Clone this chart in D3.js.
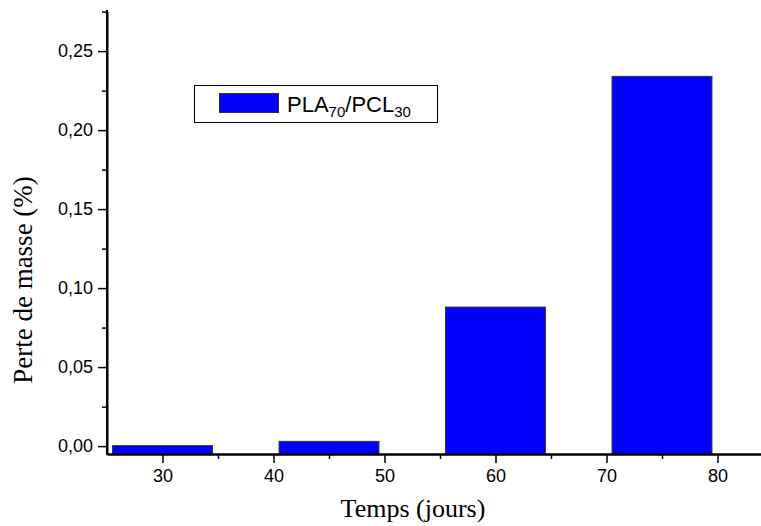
<!DOCTYPE html>
<html>
<head>
<meta charset="utf-8">
<script src="https://cdn.jsdelivr.net/npm/d3@7"></script>
<style>
  html, body { margin: 0; padding: 0; background: #fff; }
  svg { display: block; }
  .tick text { font-family: Arial, "Liberation Sans", sans-serif; }
</style>
</head>
<body>
<svg id="chart" width="761" height="526"></svg>
<script>
// Mass loss of the PLA70/PCL30 blend over time
const days = [30, 45, 60, 75];
const massLoss = [0.0003, 0.003, 0.088, 0.234];
const xTickValues = [30, 40, 50, 60, 70, 80];
const xMinorTicks = [35, 45, 55, 65, 75, 85];
const yTickValues = [0, 0.05, 0.10, 0.15, 0.20, 0.25];
const yMinorTicks = [0.025, 0.075, 0.125, 0.175, 0.225, 0.275];
const seriesName = ["PLA", "70", "/PCL", "30"];
const xTitle = "Temps (jours)";
const yTitle = "Perte de masse (%)";
const barWidthDays = 9;

const svg = d3.select("#chart");
const plotLeft = 107, plotBottom = 454, plotTop = 11.6;

const x = d3.scaleLinear().domain([25, 85]).range([plotLeft, plotLeft + 60 * 11.1]);
const y = d3.scaleLinear().domain([-0.005, 0.275]).range([plotBottom, plotTop]);

const commaFmt = d => d3.format(".2f")(d).replace(".", ",");

// Bars, rising from the bottom of the plot
svg.append("g").selectAll("rect")
  .data(days.map((d, i) => ({ day: d, v: massLoss[i] })))
  .join("rect")
  .attr("x", d => x(d.day - barWidthDays / 2))
  .attr("width", d => x(d.day + barWidthDays / 2) - x(d.day - barWidthDays / 2))
  .attr("y", d => y(d.v))
  .attr("height", d => y(-0.005) - y(d.v))
  .attr("fill", "#0000ff")
  .attr("stroke", "#333")
  .attr("stroke-width", 1);

// Y axis
const yAxis = svg.append("g").attr("transform", `translate(${plotLeft},0)`)
  .call(d3.axisLeft(y).tickValues(yTickValues).tickSize(9).tickSizeOuter(0).tickPadding(5).tickFormat(commaFmt));
yAxis.append("g").call(d3.axisLeft(y).tickValues(yMinorTicks).tickSize(5).tickSizeOuter(0).tickFormat(""));

// X axis
const xAxis = svg.append("g").attr("transform", `translate(0,${plotBottom})`)
  .call(d3.axisBottom(x).tickValues(xTickValues).tickSize(9).tickSizeOuter(0).tickPadding(6).tickFormat(d3.format("d")));
xAxis.append("g").call(d3.axisBottom(x).tickValues(xMinorTicks).tickSize(5).tickSizeOuter(0).tickFormat(""));

svg.selectAll(".domain").attr("stroke", "#000").attr("stroke-width", 2);
svg.selectAll(".tick line").attr("stroke", "#000").attr("stroke-width", 1.5);
svg.selectAll(".tick text").attr("font-size", 18).attr("fill", "#000");

// the y axis line runs from the plot bottom up to the top
yAxis.select(".domain").attr("d", `M0,${plotBottom + 1}V${plotTop - 1.5}`);

// Axis titles
svg.append("text")
  .attr("x", 413).attr("y", 517)
  .attr("text-anchor", "middle")
  .attr("font-family", "'Liberation Serif', 'Times New Roman', serif")
  .attr("font-size", 26)
  .text(xTitle);

svg.append("text")
  .attr("transform", "translate(32,280) rotate(-90)")
  .attr("text-anchor", "middle")
  .attr("font-family", "'Liberation Serif', 'Times New Roman', serif")
  .attr("font-size", 27)
  .text(yTitle);

// Legend
const lg = svg.append("g");
lg.append("rect").attr("x", 194.5).attr("y", 85.5).attr("width", 243).attr("height", 37)
  .attr("fill", "#fff").attr("stroke", "#000").attr("stroke-width", 1);
lg.append("rect").attr("x", 219.5).attr("y", 93.5).attr("width", 59).attr("height", 19)
  .attr("fill", "#0000ff").attr("stroke", "#333").attr("stroke-width", 1);
const lt = lg.append("text").attr("x", 287).attr("y", 112)
  .attr("font-family", "Arial, 'Liberation Sans', sans-serif")
  .attr("font-size", 22).attr("fill", "#000");
lt.append("tspan").text(seriesName[0]);
lt.append("tspan").attr("font-size", 15).attr("dy", 5).text(seriesName[1]);
lt.append("tspan").attr("dy", -5).text(seriesName[2]);
lt.append("tspan").attr("font-size", 15).attr("dy", 5).text(seriesName[3]);
</script>
</body>
</html>
